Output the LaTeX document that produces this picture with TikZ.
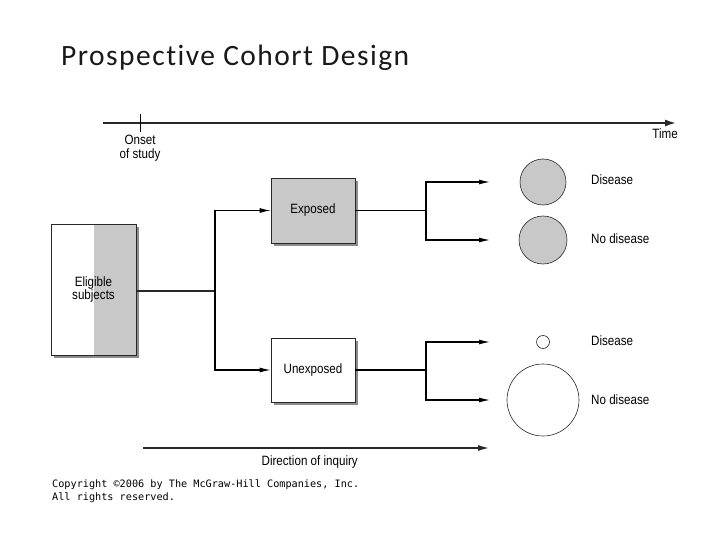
\documentclass[tikz,border=0pt]{standalone}
\usepackage{fontspec}
\setmainfont{Liberation Sans}[FakeStretch=0.86]
\newfontfamily\titlefont{Carlito}[Ligatures=NoCommon,LetterSpace=5]
\newfontfamily\copyfont{DejaVu Sans Mono}
\usepackage{xcolor}
\usetikzlibrary{arrows.meta,positioning,shadows}
\definecolor{boxgray}{RGB}{200,200,201}
\definecolor{shadegray}{RGB}{140,140,140}
\definecolor{linegray}{RGB}{40,40,40}

\begin{document}
\begin{tikzpicture}[x=1pt,y=-1pt,
  box/.style={draw=linegray,line width=0.7pt,minimum width=84pt,minimum height=65pt,inner sep=0pt,
    font=\fontsize{13.5}{15}\selectfont,align=center,
    drop shadow={shadow xshift=3pt,shadow yshift=-3pt,fill=shadegray,opacity=1}},
  grp/.style={draw=linegray,circle,inner sep=0pt,line width=0.6pt},
  lbl/.style={font=\fontsize{13.5}{15}\selectfont,align=center,inner sep=0pt},
  arr/.style={line width=1.1pt,-{Latex[length=11pt,width=5pt]}},
  >={Latex[length=11pt,width=5pt]}]
\useasboundingbox (0,0) rectangle (720,540);
% title
\node[anchor=base west,inner sep=0pt,font=\titlefont\fontsize{29.5}{31}\selectfont,text=black!90] (title) at (61,66) {Prospective Cohort Design};
% time axis
\coordinate (tstart) at (103,123); \coordinate (tend) at (677,123); \coordinate (onsettick) at (140,123);
\draw[line width=2.4pt,draw=linegray,-{Latex[length=12pt,width=7pt]}] (tstart) -- (tend);
\draw[line width=0.6pt] ([yshift=-9pt]onsettick) -- ([yshift=9pt]onsettick);
\node[lbl] (onset) at (140,148) {Onset\\[-1.5pt]of study};
\node[lbl,anchor=north east] (time) at (678,129) {Time};
% boxes
\node[box,fill=white,minimum width=85pt,minimum height=131pt,
  path picture={\fill[boxgray] (path picture bounding box.north) rectangle (path picture bounding box.south east);}]
  (elig) at (93.5,289.5) {Eligible\\[-1.5pt]subjects};
\node[box,fill=boxgray] (expo) at (313,210.5) {Exposed};
\node[box,fill=white,minimum height=64pt] (unexpo) at (313,370) {Unexposed};
% outcome groups
\node[grp,fill=boxgray,minimum size=46pt] (c1) at (543,182) {};
\node[grp,fill=boxgray,minimum size=48pt] (c2) at (543,240) {};
\node[grp,fill=white,minimum width=12pt,minimum height=13pt] (c3) at (543,342) {};
\node[grp,fill=white,minimum size=72pt] (c4) at (543,400) {};
\node[lbl,anchor=west] (d1) at (591,180) {Disease};
\node[lbl,anchor=west] (n1) at (591,239) {No disease};
\node[lbl,anchor=west] (d2) at (591,341) {Disease};
\node[lbl,anchor=west] (n2) at (591,400) {No disease};
% connectors
\coordinate (split) at (215,291); \coordinate (ebr) at (426,210.5); \coordinate (ubr) at (426,370); \coordinate (tip) at (490,0);
\draw[line width=2.2pt,draw=linegray] (elig.east |- split) -- (split);
\draw[arr] (split) |- (expo.west);
\draw[arr] (split) |- (unexpo.west);
\draw[line width=1.1pt] (expo.east) -- (ebr);
\draw[line width=1.1pt] (unexpo.east) -- (ubr);
\draw[arr] (ebr) |- (tip |- c1);
\draw[arr] (ebr) |- (tip |- c2);
\draw[arr] (ubr) |- (tip |- c3);
\draw[arr] (ubr) |- (tip |- c4);
% direction of inquiry
\coordinate (istart) at (143,448);
\draw[line width=2pt,draw=linegray,-{Latex[length=12pt,width=6pt]}] (istart) -- (tip |- istart);
\node[lbl,anchor=north east] (inquiry) at (358,456) {Direction of inquiry};
\node[anchor=base west,inner sep=0pt,align=left,font=\copyfont\fontsize{10.2}{12.5}\selectfont] (copy) at (52,500)
  {Copyright \textcopyright2006 by The McGraw-Hill Companies, Inc.\\All rights reserved.};
\end{tikzpicture}
\end{document}
